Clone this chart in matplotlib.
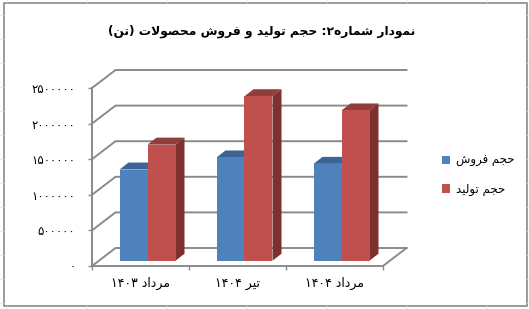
import re
import matplotlib
matplotlib.use('Agg')
import matplotlib.pyplot as plt
from matplotlib.patches import Polygon, Patch, Rectangle
from matplotlib.lines import Line2D

# data
categories = ['مرداد ۱۴۰۳', 'تیر ۱۴۰۴', 'مرداد ۱۴۰۴']
sales = [1280000, 1450000, 1360000]
production = [1630000, 2310000, 2110000]
series_names = ['حجم فروش', 'حجم تولید']
yticks = [0, 500000, 1000000, 1500000, 2000000, 2500000]
title = 'نمودار شماره۲: حجم تولید و فروش محصولات (تن)'

# colours (Excel 2007 palette)
front_cols = ['#4F81BD', '#C0504D']
top_cols = ['#3C6595', '#923D3A']
side_cols = ['#385D8A', '#7D302E']
grid_col = '#8A8A8A'

# --- tiny arabic/persian shaper: matplotlib has no text shaping or bidi ---
FORMS = {
    'ا': ('\uFE8D', '\uFE8E', None, None),
    'آ': ('\uFE81', '\uFE82', None, None),
    'ب': ('\uFE8F', '\uFE90', '\uFE91', '\uFE92'),
    'پ': ('\uFB56', '\uFB57', '\uFB58', '\uFB59'),
    'ت': ('\uFE95', '\uFE96', '\uFE97', '\uFE98'),
    'ج': ('\uFE9D', '\uFE9E', '\uFE9F', '\uFEA0'),
    'ح': ('\uFEA1', '\uFEA2', '\uFEA3', '\uFEA4'),
    'د': ('\uFEA9', '\uFEAA', None, None),
    'ر': ('\uFEAD', '\uFEAE', None, None),
    'ش': ('\uFEB5', '\uFEB6', '\uFEB7', '\uFEB8'),
    'ص': ('\uFEB9', '\uFEBA', '\uFEBB', '\uFEBC'),
    'ف': ('\uFED1', '\uFED2', '\uFED3', '\uFED4'),
    'ل': ('\uFEDD', '\uFEDE', '\uFEDF', '\uFEE0'),
    'م': ('\uFEE1', '\uFEE2', '\uFEE3', '\uFEE4'),
    'ن': ('\uFEE5', '\uFEE6', '\uFEE7', '\uFEE8'),
    'ه': ('\uFEE9', '\uFEEA', '\uFEEB', '\uFEEC'),
    'و': ('\uFEED', '\uFEEE', None, None),
    'ی': ('\uFBFC', '\uFBFD', '\uFBFE', '\uFBFF'),
}


def joins_next(c):
    return c in FORMS and FORMS[c][2] is not None


def shape(text):
    out = []
    i = 0
    n = len(text)
    while i < n:
        c = text[i]
        if c not in FORMS:
            out.append(c)
            i += 1
            continue
        link_prev = i > 0 and joins_next(text[i - 1])
        if c == 'ل' and i + 1 < n and text[i + 1] == 'ا':
            out.append('\uFEFC' if link_prev else '\uFEFB')
            i += 2
            continue
        link_next = joins_next(c) and i + 1 < n and text[i + 1] in FORMS
        iso, fin, ini, med = FORMS[c]
        if link_prev and link_next:
            out.append(med)
        elif link_prev:
            out.append(fin)
        elif link_next:
            out.append(ini)
        else:
            out.append(iso)
        i += 1
    vis = ''.join(out)[::-1]
    vis = vis.translate(str.maketrans('()', ')('))
    vis = re.sub('[۰-۹]+', lambda m: m.group(0)[::-1], vis)
    return vis


def fa_num(v):
    return shape(str(v).translate(str.maketrans('0123456789', '۰۱۲۳۴۵۶۷۸۹')))


plt.rcParams['font.family'] = ['DejaVu Sans']

W, H = 529, 309
fig = plt.figure(figsize=(W / 100, H / 100), dpi=100)

# faint spreadsheet cell lines peeking out around the chart
cell_col = '#E2E2E2'
for xp in range(7, W, 80):
    fig.add_artist(Line2D([xp / W, xp / W], [0, 3 / H], color=cell_col, lw=0.6))
    fig.add_artist(Line2D([xp / W, xp / W], [(H - 2) / H, 1], color=cell_col, lw=0.6))
for yp in range(6, H, 24):
    fig.add_artist(Line2D([0, 3 / W], [yp / H, yp / H], color=cell_col, lw=0.6))
    fig.add_artist(Line2D([(W - 2) / W, 1], [yp / H, yp / H], color=cell_col, lw=0.6))

# axes: front floor edge from px 92 to 383, zero at px 266, 35.6 px per 500000
px_x = 1 / 97
px_y = 500000 / 35.6
ax = fig.add_axes([92 / W, (H - 266) / H, 318 / W, 201 / H])
ax.set_xlim(0, 318 * px_x)
ax.set_ylim(0, 201 * px_y)
ax.patch.set_visible(False)

# fake 3d geometry
wall_dx, wall_dy = 23.5 * px_x, 18 * px_y
plane_dx, plane_dy = 7 * px_x, 5.3 * px_y
dep_dx, dep_dy = 9 * px_x, 7 * px_y
bar_w = 28 * px_x
n = len(categories)

# back wall gridlines and side wall
for v in yticks:
    ax.plot([0, wall_dx, n + wall_dx], [v, v + wall_dy, v + wall_dy],
            color=grid_col, lw=1.4, zorder=1, clip_on=False, solid_joinstyle='miter')
# floor right edge
ax.plot([n, n + wall_dx], [0, wall_dy], color=grid_col, lw=1.4, zorder=1, clip_on=False)

# bars
for i in range(n):
    for k, vals in enumerate([sales, production]):
        x0 = i + 0.5 + plane_dx - bar_w + k * bar_w
        x1 = x0 + bar_w
        b = plane_dy
        t = plane_dy + vals[i]
        z = 3 + i * 2 + k
        ax.add_patch(Polygon([(x0, t), (x1, t), (x1 + dep_dx, t + dep_dy), (x0 + dep_dx, t + dep_dy)],
                             closed=True, facecolor=top_cols[k], edgecolor='none', zorder=z))
        ax.add_patch(Polygon([(x1, b), (x1, t), (x1 + dep_dx, t + dep_dy), (x1 + dep_dx, b + dep_dy)],
                             closed=True, facecolor=side_cols[k], edgecolor='none', zorder=z))
        ax.bar(x0, vals[i], width=bar_w, bottom=b, align='edge',
               color=front_cols[k], edgecolor='none', zorder=z)

# axes lines and ticks
for s in ['top', 'right']:
    ax.spines[s].set_visible(False)
ax.spines['left'].set_bounds(0, yticks[-1])
ax.spines['bottom'].set_bounds(0, n)
for s in ['left', 'bottom']:
    ax.spines[s].set_color(grid_col)
    ax.spines[s].set_linewidth(1.4)

ax.set_yticks(yticks)
ax.set_yticklabels([fa_num(v) for v in yticks])
ax.tick_params(axis='y', length=3, width=1, color=grid_col, pad=9, labelsize=8.5)

ax.set_xticks(range(n + 1))
ax.set_xticklabels([])
ax.set_xticks([i + 0.5 for i in range(n)], minor=True)
ax.set_xticklabels([shape(c) for c in categories], minor=True)
ax.tick_params(axis='x', which='major', length=3, width=1, color=grid_col)
ax.tick_params(axis='x', which='minor', length=0, pad=8, labelsize=9)

# title
fig.text(262 / W, (H - 31) / H, shape(title), ha='center', va='center',
         fontsize=8.8, fontweight='bold')

# legend
handles = [Patch(facecolor=c, edgecolor='none') for c in front_cols]
fig.legend(handles, [shape(s) for s in series_names], loc='center left',
           bbox_to_anchor=(442 / W, (H - 175) / H), frameon=False, fontsize=8.5,
           handlelength=0.7, handleheight=0.7, handletextpad=0.5, labelspacing=1.3,
           borderpad=0, borderaxespad=0)

# chart border
fig.patches.append(Rectangle((3.5 / W, (H - 305.5) / H), 523.5 / W, 303 / H,
                             transform=fig.transFigure, fill=False,
                             edgecolor=grid_col, lw=1.2))

fig.savefig('out.png', dpi=100)
